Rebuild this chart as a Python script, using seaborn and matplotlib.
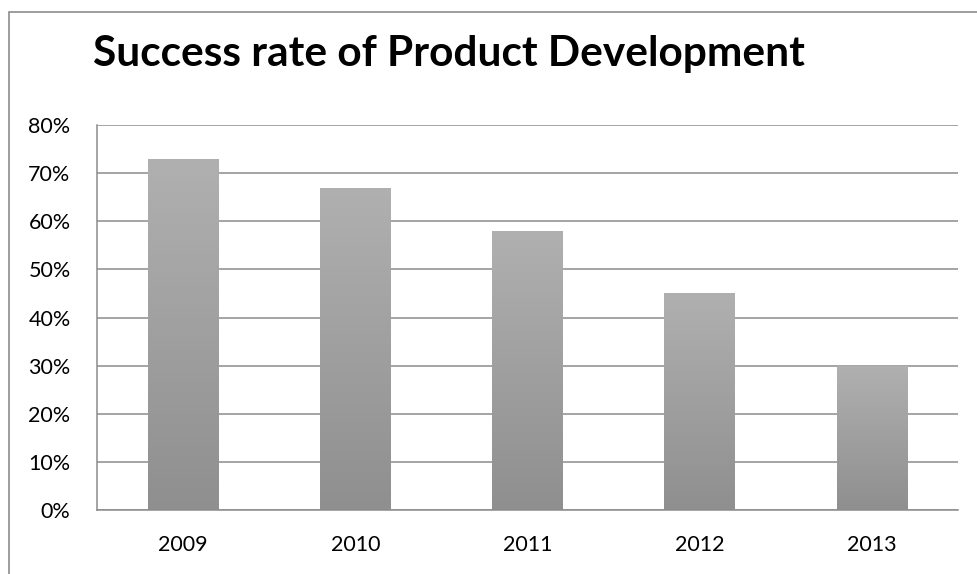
import matplotlib
matplotlib.use("Agg")
import matplotlib.pyplot as plt
import matplotlib.patches as mpatches
from matplotlib.colors import LinearSegmentedColormap
from matplotlib.ticker import FuncFormatter
import seaborn as sns
import numpy as np
import pandas as pd

years = ["2009", "2010", "2011", "2012", "2013"]
success_rate = [73, 67, 58, 45, 30]

df = pd.DataFrame({"year": years, "rate": success_rate})

sns.set_style("white")
plt.rcParams["font.family"] = ["Lato", "DejaVu Sans"]

fig = plt.figure(figsize=(9.77, 5.74), dpi=100)
ax = fig.add_axes([97 / 977, 1 - 510 / 574, (958 - 97) / 977, (510 - 125) / 574])

sns.barplot(data=df, x="year", y="rate", color="#a0a0a0", width=0.41, ax=ax)

# vertical gray gradient on each bar
grad = LinearSegmentedColormap.from_list("g", ["#8f8f8f", "#b0b0b0"])
for p in ax.patches:
    x0, y0 = p.get_x(), p.get_y()
    w, h = p.get_width(), p.get_height()
    p.set_facecolor("none")
    p.set_edgecolor("none")
    im = ax.imshow(np.linspace(0, 1, 256).reshape(-1, 1), cmap=grad, origin="lower",
                   extent=[x0, x0 + w, y0, y0 + h], aspect="auto", zorder=2)
    im.set_clip_path(p)

ax.set_xlim(-0.5, 4.5)
ax.set_ylim(0, 80)
ax.set_yticks(range(0, 81, 10))
ax.yaxis.set_major_formatter(FuncFormatter(lambda v, _: f"{v:.0f}%"))
ax.grid(axis="y", color="#8c8c8c", linewidth=1.1)
ax.set_axisbelow(True)
for s in ["top", "right"]:
    ax.spines[s].set_visible(False)
ax.spines["left"].set_color("#8c8c8c")
ax.spines["bottom"].set_color("#8c8c8c")
ax.spines["left"].set_linewidth(1.1)
ax.spines["bottom"].set_linewidth(1.1)
ax.tick_params(axis="both", length=0, labelsize=15.5, colors="black")
ax.tick_params(axis="y", pad=19)
ax.tick_params(axis="x", pad=18)
ax.set_xlabel("")
ax.set_ylabel("")

# chart frame
fig.patches.append(mpatches.Rectangle((9 / 977, -0.1), 1.2, 1 - 12 / 574 + 0.1,
                                      transform=fig.transFigure, fill=False,
                                      edgecolor="#8c8c8c", linewidth=1.2))

fig.text(93 / 977, 1 - 54 / 574, "Success rate of Product Development",
         fontsize=30.5, fontweight="bold", ha="left", va="center", color="black")

fig.savefig("out.png", dpi=100)
